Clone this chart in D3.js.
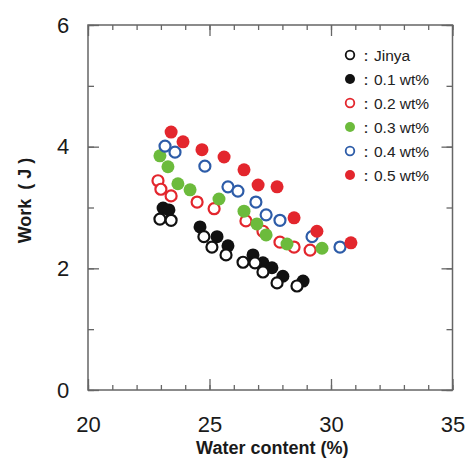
<!DOCTYPE html>
<html>
<head>
<meta charset="utf-8">
<script src="https://cdn.jsdelivr.net/npm/d3@7"></script>
<style>
  body { margin: 0; background: #fff; }
  svg { display: block; }
</style>
</head>
<body>
<svg id="chart" width="469" height="461"></svg>
<script>
// series: water content (%) and work (J)
var names = ['Jinya', '0.1 wt%', '0.2 wt%', '0.3 wt%', '0.4 wt%', '0.5 wt%'];
var colors = ['#111', '#111', '#e3262d', '#6cbb3c', '#2d5ca8', '#e3262d'];
var filled = [false, true, false, true, false, true];

var jinyaX = [22.96, 23.42, 24.77, 25.10, 25.68, 26.38, 26.87, 27.20, 27.78, 28.60];
var jinyaY = [2.81, 2.79, 2.52, 2.35, 2.22, 2.10, 2.09, 1.94, 1.76, 1.71];
var wt01X = [23.09, 23.33, 24.61, 25.31, 25.76, 26.79, 27.20, 27.57, 28.02, 28.85];
var wt01Y = [2.99, 2.96, 2.68, 2.52, 2.37, 2.22, 2.09, 2.01, 1.87, 1.79];
var wt02X = [22.88, 23.00, 23.42, 24.49, 25.19, 26.50, 27.20, 27.90, 28.48, 29.14];
var wt02Y = [3.44, 3.30, 3.19, 3.09, 2.98, 2.78, 2.61, 2.43, 2.35, 2.30];
var wt03X = [22.96, 23.29, 23.70, 24.20, 25.39, 26.42, 26.95, 27.33, 28.19, 29.63];
var wt03Y = [3.85, 3.67, 3.39, 3.29, 3.14, 2.94, 2.73, 2.55, 2.40, 2.33];
var wt04X = [23.17, 23.58, 24.81, 25.76, 26.17, 26.91, 27.33, 27.90, 29.22, 30.37];
var wt04Y = [4.01, 3.91, 3.68, 3.34, 3.27, 3.09, 2.88, 2.79, 2.52, 2.35];
var wt05X = [23.42, 23.91, 24.69, 25.60, 26.42, 27.00, 27.78, 28.48, 29.42, 30.82];
var wt05Y = [4.24, 4.08, 3.95, 3.83, 3.62, 3.37, 3.34, 2.83, 2.61, 2.42];

var xTicks = [20, 25, 30, 35];
var yTicks = [0, 2, 4, 6];

var seriesX = [jinyaX, wt01X, wt02X, wt03X, wt04X, wt05X];
var seriesY = [jinyaY, wt01Y, wt02Y, wt03Y, wt04Y, wt05Y];
var drawOrder = [1, 0, 2, 3, 4, 5];

var svg = d3.select('#chart');
var pl = 88, pr = 452.5, pt = 25, pb = 390;

var x = d3.scaleLinear().domain([20, 35]).range([pl, pr]);
var y = d3.scaleLinear().domain([0, 6]).range([pb, pt]);

var axisColor = '#666';
var font = '"Liberation Sans", Arial, sans-serif';

// frame
svg.append('rect')
  .attr('x', pl).attr('y', pt)
  .attr('width', pr - pl).attr('height', pb - pt)
  .attr('fill', 'none').attr('stroke', axisColor).attr('stroke-width', 1.5);

function styleAxis(g) {
  g.select('.domain').remove();
  g.selectAll('line').attr('stroke', axisColor).attr('stroke-width', 1.3);
}

var minorX = d3.range(20, 35.01, 1);
var minorY = d3.range(0, 6.01, 1);

// minor ticks (inward)
svg.append('g').attr('transform', 'translate(0,' + pb + ')')
  .call(d3.axisBottom(x).tickValues(minorX).tickSize(-5).tickFormat(''))
  .call(styleAxis);
svg.append('g').attr('transform', 'translate(0,' + pt + ')')
  .call(d3.axisTop(x).tickValues(minorX).tickSize(-5).tickFormat(''))
  .call(styleAxis);
svg.append('g').attr('transform', 'translate(' + pl + ',0)')
  .call(d3.axisLeft(y).tickValues(minorY).tickSize(-6).tickFormat(''))
  .call(styleAxis);
svg.append('g').attr('transform', 'translate(' + pr + ',0)')
  .call(d3.axisRight(y).tickValues(minorY).tickSize(-6).tickFormat(''))
  .call(styleAxis);

// major ticks with labels
var xb = svg.append('g').attr('transform', 'translate(0,' + pb + ')')
  .call(d3.axisBottom(x).tickValues(xTicks).tickSize(-11).tickPadding(26).tickFormat(d3.format('d')))
  .call(styleAxis);
xb.selectAll('text').attr('font-family', font).attr('font-size', 22).attr('fill', '#1a1a1a');
svg.append('g').attr('transform', 'translate(0,' + pt + ')')
  .call(d3.axisTop(x).tickValues(xTicks).tickSize(-11).tickFormat(''))
  .call(styleAxis);
var yl = svg.append('g').attr('transform', 'translate(' + pl + ',0)')
  .call(d3.axisLeft(y).tickValues(yTicks).tickSize(-11).tickPadding(29).tickFormat(d3.format('d')))
  .call(styleAxis);
yl.selectAll('text').attr('font-family', font).attr('font-size', 22).attr('fill', '#1a1a1a')
  .attr('text-anchor', 'middle').attr('dx', '4');
svg.append('g').attr('transform', 'translate(' + pr + ',0)')
  .call(d3.axisRight(y).tickValues(yTicks).tickSize(-11).tickFormat(''))
  .call(styleAxis);

// axis titles
svg.append('text')
  .attr('x', (pl + pr) / 2 + 2).attr('y', 454)
  .attr('text-anchor', 'middle')
  .attr('font-family', font).attr('font-weight', 'bold').attr('font-size', 18)
  .attr('fill', '#1a1a1a')
  .text('Water content (%)');
var yt = svg.append('text')
  .attr('transform', 'translate(31,198) rotate(-90)')
  .attr('text-anchor', 'middle')
  .attr('font-family', font).attr('font-weight', 'bold').attr('font-size', 18)
  .attr('fill', '#1a1a1a');
yt.append('tspan').text('Work');
yt.append('tspan').attr('dx', 9).attr('letter-spacing', 5).text('(J)');

// points
drawOrder.forEach(function(i) {
  var pts = seriesX[i].map(function(v, j) { return [v, seriesY[i][j]]; });
  svg.append('g').selectAll('circle')
    .data(pts)
    .enter().append('circle')
    .attr('cx', function(d) { return x(d[0]); })
    .attr('cy', function(d) { return y(d[1]); })
    .attr('r', filled[i] ? 6.5 : 5.5)
    .attr('fill', filled[i] ? colors[i] : '#fff')
    .attr('stroke', filled[i] ? 'none' : colors[i])
    .attr('stroke-width', 2.2);
});

// legend
var legend = svg.append('g');
names.forEach(function(n, i) {
  var cy = 55 + i * 24;
  legend.append('circle')
    .attr('cx', 350).attr('cy', cy)
    .attr('r', filled[i] ? 5 : 4.3)
    .attr('fill', filled[i] ? colors[i] : '#fff')
    .attr('stroke', filled[i] ? 'none' : colors[i])
    .attr('stroke-width', 1.8);
  legend.append('text')
    .attr('x', 358).attr('y', cy + 5.5)
    .attr('font-family', font).attr('font-size', 15.5)
    .attr('fill', '#222')
    .text('：' + n);
});
</script>
</body>
</html>
